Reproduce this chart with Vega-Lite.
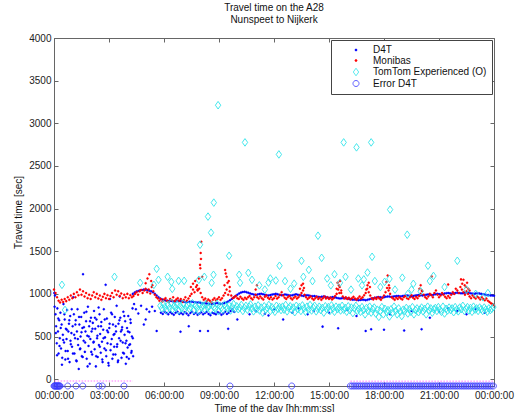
{
"$schema":"https://vega.github.io/schema/vega-lite/v6.json",
"width":440,"height":348,
"autosize":"none",
"padding":{"left":54,"top":38,"right":22,"bottom":26},
"title":{"text":["Travel time on the A28","Nunspeet to Nijkerk"],"font":"Liberation Sans","fontSize":10,"fontWeight":"normal","color":"#111","anchor":"middle","offset":8,"lineHeight":12},
"datasets":{
"d4t":[
{"m":1,"v":1010},{"m":3,"v":980},{"m":5,"v":760},{"m":7,"v":620},{"m":9,"v":420},{"m":11,"v":830},{"m":13,"v":560},{"m":15,"v":300},{"m":17,"v":690},{"m":19,"v":480},
{"m":21,"v":780},{"m":23,"v":360},{"m":25,"v":640},{"m":27,"v":250},{"m":29,"v":520},{"m":31,"v":880},{"m":33,"v":430},{"m":35,"v":700},{"m":37,"v":230},{"m":39,"v":590},
{"m":41,"v":470},{"m":43,"v":810},{"m":45,"v":330},{"m":47,"v":560},{"m":49,"v":650},{"m":51,"v":200},{"m":53,"v":740},{"m":55,"v":410},{"m":57,"v":540},{"m":59,"v":380},
{"m":61,"v":620},{"m":63,"v":960},{"m":65,"v":760},{"m":67,"v":300},{"m":69,"v":480},{"m":71,"v":690},{"m":73,"v":220},{"m":75,"v":560},{"m":77,"v":820},{"m":79,"v":400},
{"m":81,"v":120},{"m":83,"v":640},{"m":85,"v":350},{"m":87,"v":500},{"m":89,"v":730},{"m":91,"v":270},{"m":93,"v":600},{"m":95,"v":1231},{"m":97,"v":450},{"m":99,"v":780},
{"m":101,"v":320},{"m":103,"v":560},{"m":105,"v":680},{"m":107,"v":240},{"m":109,"v":510},{"m":111,"v":850},{"m":113,"v":390},{"m":115,"v":620},{"m":117,"v":180},{"m":119,"v":470},
{"m":121,"v":720},{"m":123,"v":560},{"m":125,"v":290},{"m":127,"v":660},{"m":129,"v":430},{"m":131,"v":800},{"m":133,"v":350},{"m":135,"v":590},{"m":137,"v":150},{"m":139,"v":700},
{"m":141,"v":480},{"m":143,"v":260},{"m":145,"v":620},{"m":147,"v":400},{"m":149,"v":760},{"m":151,"v":530},{"m":153,"v":310},{"m":155,"v":670},{"m":157,"v":440},{"m":159,"v":200},
{"m":161,"v":580},{"m":163,"v":820},{"m":165,"v":360},{"m":167,"v":490},{"m":169,"v":1106},{"m":171,"v":270},{"m":173,"v":710},{"m":175,"v":420},{"m":177,"v":550},{"m":179,"v":160},
{"m":181,"v":600},{"m":183,"v":940},{"m":185,"v":340},{"m":187,"v":780},{"m":189,"v":470},{"m":191,"v":240},{"m":193,"v":640},{"m":195,"v":520},{"m":197,"v":380},{"m":199,"v":730},
{"m":201,"v":290},{"m":203,"v":560},{"m":205,"v":860},{"m":207,"v":410},{"m":209,"v":200},{"m":211,"v":650},{"m":213,"v":480},{"m":215,"v":970},{"m":217,"v":720},{"m":219,"v":560},
{"m":221,"v":250},{"m":223,"v":610},{"m":225,"v":430},{"m":227,"v":790},{"m":229,"v":300},{"m":231,"v":520},{"m":233,"v":680},{"m":235,"v":180},{"m":237,"v":450},{"m":239,"v":600},
{"m":241,"v":370},{"m":243,"v":740},{"m":245,"v":240},{"m":247,"v":550},{"m":249,"v":410},{"m":251,"v":660},{"m":253,"v":310},{"m":255,"v":500},{"m":257,"v":830},{"m":259,"v":270},
{"m":2,"v":850},{"m":6,"v":540},{"m":10,"v":280},{"m":14,"v":710},{"m":18,"v":390},{"m":22,"v":600},{"m":26,"v":170},{"m":30,"v":460},{"m":34,"v":760},{"m":38,"v":330},
{"m":42,"v":580},{"m":46,"v":240},{"m":50,"v":690},{"m":54,"v":450},{"m":58,"v":820},{"m":62,"v":300},{"m":66,"v":520},{"m":70,"v":640},{"m":74,"v":210},{"m":78,"v":470},
{"m":82,"v":730},{"m":86,"v":360},{"m":90,"v":550},{"m":94,"v":260},{"m":98,"v":610},{"m":102,"v":430},{"m":106,"v":790},{"m":110,"v":150},{"m":114,"v":500},{"m":118,"v":680},
{"m":122,"v":320},{"m":126,"v":590},{"m":130,"v":440},{"m":134,"v":720},{"m":138,"v":270},{"m":142,"v":510},{"m":146,"v":840},{"m":150,"v":380},{"m":154,"v":620},{"m":158,"v":230},
{"m":162,"v":480},{"m":166,"v":700},{"m":170,"v":340},{"m":174,"v":570},{"m":178,"v":190},{"m":182,"v":650},{"m":186,"v":410},{"m":190,"v":760},{"m":194,"v":290},{"m":198,"v":530},
{"m":202,"v":620},{"m":206,"v":380},{"m":210,"v":220},{"m":214,"v":690},{"m":218,"v":450},{"m":222,"v":580},{"m":226,"v":310},{"m":230,"v":740},{"m":234,"v":420},{"m":238,"v":260},
{"m":242,"v":560},{"m":246,"v":400},{"m":250,"v":700},{"m":254,"v":330},{"m":258,"v":480},
{"m":262,"v":880},{"m":268,"v":820},{"m":276,"v":770},{"m":285,"v":860},{"m":294,"v":640},{"m":303,"v":820},{"m":312,"v":790},{"m":321,"v":850},{"m":330,"v":800},{"m":300,"v":700},
{"m":258,"v":1000},{"m":264,"v":1015},{"m":270,"v":1028},{"m":276,"v":1035},{"m":282,"v":1042},{"m":288,"v":1046},{"m":294,"v":1050},{"m":300,"v":1048},{"m":306,"v":1045},{"m":312,"v":1038},
{"m":318,"v":1030},{"m":324,"v":1018},{"m":330,"v":1000},{"m":336,"v":980},{"m":342,"v":960},{"m":348,"v":945},{"m":354,"v":935},{"m":360,"v":928},{"m":366,"v":922},{"m":372,"v":918},
{"m":378,"v":915},{"m":384,"v":918},{"m":390,"v":912},{"m":396,"v":910},{"m":402,"v":914},{"m":408,"v":918},{"m":414,"v":915},{"m":420,"v":910},{"m":426,"v":905},{"m":432,"v":900},
{"m":438,"v":904},{"m":444,"v":908},{"m":450,"v":910},{"m":456,"v":906},{"m":462,"v":902},{"m":468,"v":898},{"m":474,"v":900},{"m":480,"v":895},{"m":486,"v":890},{"m":492,"v":893},
{"m":498,"v":888},{"m":504,"v":885},{"m":510,"v":882},{"m":516,"v":880},{"m":522,"v":884},{"m":528,"v":888},{"m":534,"v":892},{"m":540,"v":886},{"m":546,"v":882},{"m":552,"v":886},
{"m":558,"v":892},{"m":564,"v":900},{"m":570,"v":910},{"m":576,"v":925},{"m":582,"v":940},{"m":588,"v":958},{"m":594,"v":975},{"m":600,"v":990},{"m":606,"v":1005},{"m":612,"v":1015},
{"m":618,"v":1022},{"m":624,"v":1025},{"m":630,"v":1020},{"m":636,"v":1012},{"m":642,"v":1005},{"m":648,"v":998},{"m":654,"v":992},{"m":660,"v":988},{"m":666,"v":992},{"m":672,"v":998},
{"m":678,"v":1002},{"m":684,"v":996},{"m":690,"v":990},{"m":696,"v":985},{"m":702,"v":982},{"m":708,"v":986},{"m":714,"v":992},{"m":720,"v":996},{"m":726,"v":1000},{"m":732,"v":995},
{"m":738,"v":988},{"m":744,"v":984},{"m":750,"v":988},{"m":756,"v":994},{"m":762,"v":990},{"m":768,"v":984},{"m":774,"v":980},{"m":780,"v":984},{"m":786,"v":990},{"m":792,"v":995},
{"m":798,"v":990},{"m":804,"v":985},{"m":810,"v":980},{"m":816,"v":976},{"m":822,"v":980},{"m":828,"v":985},{"m":834,"v":982},{"m":840,"v":976},{"m":846,"v":972},{"m":852,"v":975},
{"m":858,"v":970},{"m":864,"v":965},{"m":870,"v":962},{"m":876,"v":966},{"m":882,"v":970},{"m":888,"v":965},{"m":894,"v":958},{"m":900,"v":955},{"m":906,"v":958},{"m":912,"v":962},
{"m":918,"v":960},{"m":924,"v":955},{"m":930,"v":950},{"m":936,"v":946},{"m":942,"v":948},{"m":948,"v":952},{"m":954,"v":950},{"m":960,"v":945},{"m":966,"v":940},{"m":972,"v":936},
{"m":978,"v":932},{"m":984,"v":935},{"m":990,"v":930},{"m":996,"v":926},{"m":1002,"v":928},{"m":1008,"v":932},{"m":1014,"v":930},{"m":1020,"v":926},{"m":1026,"v":930},{"m":1032,"v":936},
{"m":1038,"v":942},{"m":1044,"v":948},{"m":1050,"v":954},{"m":1056,"v":958},{"m":1062,"v":962},{"m":1068,"v":960},{"m":1074,"v":956},{"m":1080,"v":960},{"m":1086,"v":966},{"m":1092,"v":970},
{"m":1098,"v":968},{"m":1104,"v":964},{"m":1110,"v":968},{"m":1116,"v":972},{"m":1122,"v":976},{"m":1128,"v":974},{"m":1134,"v":970},{"m":1140,"v":974},{"m":1146,"v":978},{"m":1152,"v":982},
{"m":1158,"v":980},{"m":1164,"v":976},{"m":1170,"v":972},{"m":1176,"v":976},{"m":1182,"v":980},{"m":1188,"v":984},{"m":1194,"v":988},{"m":1200,"v":985},{"m":1206,"v":980},{"m":1212,"v":984},
{"m":1218,"v":990},{"m":1224,"v":994},{"m":1230,"v":990},{"m":1236,"v":986},{"m":1242,"v":990},{"m":1248,"v":996},{"m":1254,"v":1000},{"m":1260,"v":998},{"m":1266,"v":994},{"m":1272,"v":998},
{"m":1278,"v":1004},{"m":1284,"v":1008},{"m":1290,"v":1010},{"m":1296,"v":1006},{"m":1302,"v":1002},{"m":1308,"v":1006},{"m":1314,"v":1010},{"m":1320,"v":1014},{"m":1326,"v":1010},{"m":1332,"v":1006},
{"m":1338,"v":1008},{"m":1344,"v":1012},{"m":1350,"v":1015},{"m":1356,"v":1012},{"m":1362,"v":1008},{"m":1368,"v":1004},{"m":1374,"v":1000},{"m":1380,"v":1004},{"m":1386,"v":1008},{"m":1392,"v":1005},
{"m":1398,"v":1000},{"m":1404,"v":996},{"m":1410,"v":992},{"m":1416,"v":988},{"m":1422,"v":985},{"m":1428,"v":982},{"m":1434,"v":980},{"m":1440,"v":978},
{"m":350,"v":780},{"m":356,"v":765},{"m":362,"v":790},{"m":368,"v":775},{"m":374,"v":760},{"m":380,"v":785},{"m":386,"v":770},{"m":392,"v":755},{"m":398,"v":780},{"m":404,"v":790},
{"m":410,"v":765},{"m":416,"v":775},{"m":422,"v":760},{"m":428,"v":785},{"m":434,"v":770},{"m":440,"v":750},{"m":446,"v":775},{"m":452,"v":790},{"m":458,"v":765},{"m":464,"v":780},
{"m":470,"v":755},{"m":476,"v":770},{"m":482,"v":785},{"m":488,"v":760},{"m":494,"v":775},{"m":500,"v":790},{"m":506,"v":765},{"m":512,"v":750},{"m":518,"v":780},{"m":524,"v":770},
{"m":530,"v":760},{"m":536,"v":785},{"m":542,"v":775},{"m":548,"v":755},{"m":554,"v":770},{"m":560,"v":790},{"m":566,"v":765},{"m":572,"v":780},{"m":578,"v":800},{"m":584,"v":820},{"m":590,"v":790},
{"m":336,"v":565},{"m":414,"v":557},{"m":441,"v":620},{"m":478,"v":565},{"m":504,"v":565},{"m":570,"v":590},{"m":600,"v":700},{"m":640,"v":760},{"m":660,"v":800},{"m":690,"v":766},
{"m":702,"v":747},{"m":720,"v":820},{"m":750,"v":700},{"m":780,"v":780},{"m":800,"v":830},{"m":830,"v":760},{"m":850,"v":800},{"m":879,"v":616},{"m":900,"v":780},{"m":930,"v":596},
{"m":960,"v":810},{"m":990,"v":740},{"m":1020,"v":565},{"m":1038,"v":585},{"m":1080,"v":580},{"m":1100,"v":760},{"m":1146,"v":570},{"m":1170,"v":800},{"m":1203,"v":585},{"m":1230,"v":720},
{"m":1260,"v":790},{"m":1290,"v":830},{"m":1320,"v":800},{"m":1350,"v":760},{"m":1380,"v":820},{"m":1410,"v":780}
],
"mon":[
{"m":0,"v":1050},{"m":5,"v":1010},{"m":10,"v":960},{"m":15,"v":920},{"m":20,"v":900},{"m":25,"v":930},{"m":30,"v":905},{"m":35,"v":940},{"m":40,"v":915},{"m":45,"v":960},
{"m":50,"v":930},{"m":55,"v":980},{"m":60,"v":950},{"m":65,"v":1000},{"m":70,"v":960},{"m":75,"v":1020},{"m":80,"v":985},{"m":85,"v":1050},{"m":90,"v":990},{"m":95,"v":1030},
{"m":100,"v":970},{"m":105,"v":1010},{"m":110,"v":950},{"m":115,"v":990},{"m":120,"v":940},{"m":125,"v":980},{"m":130,"v":1020},{"m":135,"v":960},{"m":140,"v":1000},{"m":145,"v":945},
{"m":150,"v":980},{"m":155,"v":930},{"m":160,"v":965},{"m":165,"v":1000},{"m":170,"v":950},{"m":175,"v":985},{"m":180,"v":940},{"m":185,"v":975},{"m":190,"v":1010},{"m":195,"v":960},
{"m":200,"v":1040},{"m":205,"v":990},{"m":210,"v":1030},{"m":215,"v":975},{"m":220,"v":1005},{"m":225,"v":950},{"m":230,"v":990},{"m":235,"v":960},{"m":240,"v":1000},{"m":245,"v":950},
{"m":250,"v":985},{"m":255,"v":960},{"m":260,"v":975},{"m":265,"v":1000},{"m":270,"v":1020},{"m":275,"v":990},{"m":280,"v":1030},{"m":285,"v":1045},{"m":290,"v":1010},{"m":295,"v":1040},
{"m":300,"v":1060},{"m":305,"v":1020},{"m":310,"v":1050},{"m":315,"v":1005},{"m":320,"v":1080},{"m":325,"v":1030},{"m":330,"v":990},{"m":335,"v":960},{"m":340,"v":945},{"m":345,"v":920},
{"m":350,"v":940},{"m":355,"v":910},{"m":360,"v":935},{"m":365,"v":950},{"m":370,"v":920},{"m":375,"v":905},{"m":380,"v":940},{"m":385,"v":925},{"m":390,"v":960},{"m":395,"v":915},
{"m":400,"v":935},{"m":405,"v":950},{"m":410,"v":920},{"m":415,"v":940},{"m":420,"v":905},{"m":425,"v":930},{"m":430,"v":960},{"m":435,"v":920},{"m":440,"v":945},{"m":445,"v":975},
{"m":450,"v":1000},{"m":455,"v":1050},{"m":460,"v":1020},{"m":465,"v":1080},{"m":470,"v":1040},{"m":475,"v":1060},{"m":480,"v":1010},{"m":485,"v":960},{"m":490,"v":930},{"m":495,"v":945},
{"m":500,"v":915},{"m":505,"v":935},{"m":510,"v":920},{"m":515,"v":900},{"m":520,"v":930},{"m":525,"v":950},{"m":530,"v":925},{"m":535,"v":940},{"m":540,"v":960},{"m":545,"v":930},
{"m":550,"v":950},{"m":555,"v":980},{"m":560,"v":1010},{"m":565,"v":1050},{"m":570,"v":990},{"m":575,"v":1030},{"m":580,"v":980},{"m":585,"v":950},{"m":590,"v":960},{"m":595,"v":975},
{"m":600,"v":950},{"m":605,"v":940},{"m":610,"v":965},{"m":615,"v":945},{"m":620,"v":930},{"m":625,"v":955},{"m":630,"v":940},{"m":635,"v":960},{"m":640,"v":975},{"m":645,"v":950},
{"m":650,"v":935},{"m":655,"v":960},{"m":660,"v":990},{"m":665,"v":960},{"m":670,"v":945},{"m":675,"v":970},{"m":680,"v":950},{"m":685,"v":935},{"m":690,"v":965},{"m":695,"v":980},
{"m":700,"v":955},{"m":705,"v":940},{"m":710,"v":960},{"m":715,"v":935},{"m":720,"v":950},{"m":725,"v":975},{"m":730,"v":945},{"m":735,"v":960},{"m":740,"v":990},{"m":745,"v":1020},
{"m":750,"v":980},{"m":755,"v":955},{"m":760,"v":940},{"m":765,"v":960},{"m":770,"v":975},{"m":775,"v":950},{"m":780,"v":935},{"m":785,"v":955},{"m":790,"v":970},{"m":795,"v":945},
{"m":800,"v":960},{"m":805,"v":985},{"m":810,"v":1010},{"m":815,"v":1040},{"m":820,"v":990},{"m":825,"v":960},{"m":830,"v":940},{"m":835,"v":955},{"m":840,"v":970},{"m":845,"v":945},
{"m":850,"v":930},{"m":855,"v":950},{"m":860,"v":965},{"m":865,"v":940},{"m":870,"v":955},{"m":875,"v":930},{"m":880,"v":950},{"m":885,"v":970},{"m":890,"v":945},{"m":895,"v":960},
{"m":900,"v":940},{"m":905,"v":955},{"m":910,"v":935},{"m":915,"v":950},{"m":920,"v":975},{"m":925,"v":1000},{"m":930,"v":1050},{"m":935,"v":1080},{"m":940,"v":1010},{"m":945,"v":970},
{"m":950,"v":945},{"m":955,"v":960},{"m":960,"v":940},{"m":965,"v":955},{"m":970,"v":935},{"m":975,"v":950},{"m":980,"v":965},{"m":985,"v":945},{"m":990,"v":930},{"m":995,"v":950},
{"m":1000,"v":970},{"m":1005,"v":945},{"m":1010,"v":960},{"m":1015,"v":985},{"m":1020,"v":1010},{"m":1025,"v":1060},{"m":1030,"v":1020},{"m":1035,"v":980},{"m":1040,"v":950},{"m":1045,"v":935},
{"m":1050,"v":955},{"m":1055,"v":940},{"m":1060,"v":960},{"m":1065,"v":945},{"m":1070,"v":930},{"m":1075,"v":955},{"m":1080,"v":980},{"m":1085,"v":1020},{"m":1090,"v":1070},{"m":1095,"v":1040},
{"m":1100,"v":1000},{"m":1105,"v":960},{"m":1110,"v":945},{"m":1115,"v":930},{"m":1120,"v":955},{"m":1125,"v":940},{"m":1130,"v":960},{"m":1135,"v":945},{"m":1140,"v":935},{"m":1145,"v":960},
{"m":1150,"v":975},{"m":1155,"v":950},{"m":1160,"v":940},{"m":1165,"v":960},{"m":1170,"v":985},{"m":1175,"v":955},{"m":1180,"v":940},{"m":1185,"v":965},{"m":1190,"v":950},{"m":1195,"v":975},
{"m":1200,"v":1000},{"m":1205,"v":1030},{"m":1210,"v":990},{"m":1215,"v":960},{"m":1220,"v":945},{"m":1225,"v":970},{"m":1230,"v":1000},{"m":1235,"v":985},{"m":1240,"v":960},{"m":1245,"v":1010},
{"m":1250,"v":1040},{"m":1255,"v":990},{"m":1260,"v":960},{"m":1265,"v":980},{"m":1270,"v":1010},{"m":1275,"v":990},{"m":1280,"v":965},{"m":1285,"v":950},{"m":1290,"v":975},{"m":1295,"v":955},
{"m":1300,"v":990},{"m":1305,"v":1020},{"m":1310,"v":1000},{"m":1315,"v":1060},{"m":1320,"v":1040},{"m":1325,"v":1010},{"m":1330,"v":1080},{"m":1335,"v":1050},{"m":1340,"v":1020},{"m":1345,"v":990},
{"m":1350,"v":1030},{"m":1355,"v":1000},{"m":1360,"v":970},{"m":1365,"v":950},{"m":1370,"v":980},{"m":1375,"v":960},{"m":1380,"v":945},{"m":1385,"v":970},{"m":1390,"v":955},{"m":1395,"v":935},
{"m":1400,"v":960},{"m":1405,"v":940},{"m":1410,"v":925},{"m":1415,"v":945},{"m":1420,"v":920},{"m":1425,"v":905},{"m":1430,"v":890},{"m":1435,"v":880},{"m":1440,"v":870},
{"m":300,"v":1125},{"m":306,"v":1180},{"m":312,"v":1230},{"m":318,"v":1150},{"m":322,"v":1100},
{"m":448,"v":1080},{"m":455,"v":1120},{"m":462,"v":1150},{"m":468,"v":1100},{"m":474,"v":1180},{"m":478,"v":1340},{"m":480,"v":1480},{"m":481,"v":1410},{"m":482,"v":1610},{"m":479,"v":1300},{"m":485,"v":1200},{"m":470,"v":1050},
{"m":558,"v":1100},{"m":560,"v":1280},{"m":562,"v":1240},{"m":565,"v":1200},{"m":568,"v":1130},{"m":572,"v":1150},{"m":575,"v":1080},
{"m":660,"v":1050},{"m":664,"v":1100},
{"m":805,"v":1060},{"m":810,"v":1100},{"m":815,"v":1120},{"m":818,"v":1070},
{"m":925,"v":1060},{"m":928,"v":1130},{"m":932,"v":1100},{"m":936,"v":1150},{"m":940,"v":1040},{"m":934,"v":1010},
{"m":1022,"v":1050},{"m":1026,"v":1100},{"m":1030,"v":1130},{"m":1034,"v":1080},
{"m":1088,"v":1140},{"m":1092,"v":1215},{"m":1096,"v":1100},{"m":1098,"v":1070},
{"m":1196,"v":1060},{"m":1200,"v":1100},{"m":1204,"v":1040},{"m":1236,"v":1204},{"m":1290,"v":1110},
{"m":1332,"v":1170},{"m":1336,"v":1120},{"m":1340,"v":1165},{"m":1344,"v":1100},{"m":1348,"v":1082},{"m":1352,"v":1130},{"m":1356,"v":1060},{"m":1360,"v":1040}
],
"tt":[
{"m":348,"v":860},{"m":353,"v":830},{"m":358,"v":880},{"m":363,"v":845},{"m":368,"v":810},{"m":373,"v":870},{"m":378,"v":835},{"m":383,"v":895},{"m":388,"v":820},{"m":393,"v":855},
{"m":398,"v":840},{"m":403,"v":875},{"m":408,"v":805},{"m":413,"v":860},{"m":418,"v":830},{"m":423,"v":885},{"m":428,"v":815},{"m":433,"v":850},{"m":438,"v":870},{"m":443,"v":825},
{"m":448,"v":845},{"m":453,"v":890},{"m":458,"v":810},{"m":463,"v":865},{"m":468,"v":835},{"m":473,"v":800},{"m":478,"v":875},{"m":483,"v":840},{"m":488,"v":860},{"m":493,"v":820},
{"m":498,"v":880},{"m":503,"v":835},{"m":508,"v":855},{"m":513,"v":810},{"m":518,"v":870},{"m":523,"v":845},{"m":528,"v":825},{"m":533,"v":885},{"m":538,"v":800},{"m":543,"v":860},
{"m":548,"v":840},{"m":553,"v":815},{"m":558,"v":875},{"m":563,"v":850},{"m":568,"v":830},{"m":573,"v":865},{"m":578,"v":805},{"m":583,"v":845},{"m":588,"v":880},{"m":593,"v":825},
{"m":598,"v":855},{"m":603,"v":820},{"m":608,"v":840},{"m":613,"v":870},{"m":618,"v":800},{"m":623,"v":835},{"m":628,"v":860},{"m":633,"v":815},{"m":638,"v":850},{"m":643,"v":875},
{"m":648,"v":830},{"m":653,"v":795},{"m":658,"v":850},{"m":663,"v":820},{"m":668,"v":865},{"m":673,"v":805},{"m":678,"v":840},{"m":683,"v":780},{"m":688,"v":855},{"m":693,"v":815},
{"m":698,"v":835},{"m":703,"v":870},{"m":708,"v":800},{"m":713,"v":845},{"m":718,"v":820},{"m":723,"v":790},{"m":728,"v":860},{"m":733,"v":825},{"m":738,"v":845},{"m":743,"v":810},
{"m":748,"v":850},{"m":753,"v":815},{"m":758,"v":870},{"m":763,"v":795},{"m":768,"v":835},{"m":773,"v":855},{"m":778,"v":810},{"m":783,"v":840},{"m":788,"v":785},{"m":793,"v":860},
{"m":798,"v":820},{"m":803,"v":845},{"m":808,"v":800},{"m":813,"v":865},{"m":818,"v":830},{"m":823,"v":790},{"m":828,"v":850},{"m":833,"v":815},{"m":838,"v":870},{"m":843,"v":805},
{"m":848,"v":840},{"m":853,"v":860},{"m":858,"v":795},{"m":863,"v":825},{"m":868,"v":850},{"m":873,"v":810},{"m":878,"v":835},{"m":883,"v":780},{"m":888,"v":855},{"m":893,"v":820},
{"m":898,"v":845},{"m":903,"v":800},{"m":908,"v":865},{"m":913,"v":830},{"m":918,"v":790},{"m":923,"v":850},{"m":928,"v":820},{"m":933,"v":840},{"m":938,"v":805},{"m":943,"v":860},
{"m":948,"v":815},{"m":953,"v":835},{"m":958,"v":790},{"m":963,"v":855},{"m":968,"v":810},{"m":973,"v":840},{"m":978,"v":775},{"m":983,"v":830},{"m":988,"v":860},{"m":993,"v":800},
{"m":998,"v":825},{"m":1003,"v":790},{"m":1008,"v":845},{"m":1013,"v":810},{"m":1018,"v":760},{"m":1023,"v":835},{"m":1028,"v":800},{"m":1033,"v":850},{"m":1038,"v":780},{"m":1043,"v":820},
{"m":1048,"v":840},{"m":1053,"v":770},{"m":1058,"v":815},{"m":1063,"v":730},{"m":1068,"v":800},{"m":1073,"v":845},{"m":1078,"v":760},{"m":1083,"v":825},{"m":1088,"v":790},{"m":1093,"v":810},
{"m":1098,"v":735},{"m":1103,"v":820},{"m":1108,"v":780},{"m":1113,"v":850},{"m":1118,"v":800},{"m":1123,"v":760},{"m":1128,"v":830},{"m":1133,"v":790},{"m":1138,"v":740},{"m":1143,"v":815},
{"m":1148,"v":800},{"m":1153,"v":835},{"m":1158,"v":770},{"m":1163,"v":820},{"m":1168,"v":790},{"m":1173,"v":845},{"m":1178,"v":760},{"m":1183,"v":810},{"m":1188,"v":830},{"m":1193,"v":785},
{"m":1198,"v":815},{"m":1203,"v":840},{"m":1208,"v":795},{"m":1213,"v":825},{"m":1218,"v":760},{"m":1223,"v":850},{"m":1228,"v":805},{"m":1233,"v":830},{"m":1238,"v":780},{"m":1243,"v":820},
{"m":1248,"v":835},{"m":1253,"v":800},{"m":1258,"v":845},{"m":1263,"v":815},{"m":1268,"v":790},{"m":1273,"v":850},{"m":1278,"v":770},{"m":1283,"v":825},{"m":1288,"v":805},{"m":1293,"v":840},
{"m":1298,"v":810},{"m":1303,"v":830},{"m":1308,"v":785},{"m":1313,"v":845},{"m":1318,"v":815},{"m":1323,"v":795},{"m":1328,"v":840},{"m":1333,"v":820},{"m":1338,"v":860},{"m":1343,"v":800},
{"m":1348,"v":825},{"m":1353,"v":845},{"m":1358,"v":805},{"m":1363,"v":835},{"m":1368,"v":790},{"m":1373,"v":850},{"m":1378,"v":815},{"m":1383,"v":830},{"m":1388,"v":800},{"m":1393,"v":840},
{"m":1398,"v":820},{"m":1403,"v":800},{"m":1408,"v":840},{"m":1413,"v":815},{"m":1418,"v":790},{"m":1423,"v":830},{"m":1428,"v":810},{"m":1433,"v":825},{"m":1438,"v":845},
{"m":26,"v":1106},{"m":36,"v":812},{"m":198,"v":1200},{"m":282,"v":1130},{"m":327,"v":1106},{"m":336,"v":1294},{"m":342,"v":1165},
{"m":372,"v":1200},{"m":384,"v":1141},{"m":387,"v":1059},{"m":408,"v":1153},{"m":426,"v":1153},{"m":474,"v":1165},{"m":492,"v":1200},{"m":516,"v":1130},{"m":522,"v":1224},
{"m":478,"v":1576},{"m":504,"v":1906},{"m":514,"v":1718},{"m":523,"v":2070},{"m":537,"v":3212},{"m":573,"v":1447},
{"m":606,"v":1224},{"m":609,"v":1130},{"m":636,"v":1247},{"m":648,"v":1165},{"m":625,"v":2776},
{"m":672,"v":1100},{"m":690,"v":1050},{"m":702,"v":1133},{"m":708,"v":1180},{"m":726,"v":1157},{"m":736,"v":2635},{"m":738,"v":1330},{"m":756,"v":1150},{"m":774,"v":1060},{"m":786,"v":1120},
{"m":810,"v":1388},{"m":816,"v":1200},{"m":834,"v":1282},{"m":846,"v":1150},{"m":864,"v":1682},{"m":876,"v":1423},{"m":894,"v":1180},{"m":906,"v":1100},{"m":918,"v":1230},{"m":936,"v":1130},
{"m":948,"v":2776},{"m":954,"v":1200},{"m":972,"v":1050},{"m":990,"v":2718},{"m":996,"v":1180},{"m":1008,"v":1100},{"m":1014,"v":1170},{"m":1026,"v":1250},{"m":1038,"v":2776},{"m":1041,"v":1435},
{"m":1050,"v":1150},{"m":1068,"v":1080},{"m":1082,"v":1141},{"m":1098,"v":1176},{"m":1100,"v":1988},{"m":1116,"v":1050},{"m":1140,"v":1190},{"m":1156,"v":1694},{"m":1158,"v":1000},{"m":1170,"v":1051},
{"m":1176,"v":1118},{"m":1200,"v":1030},{"m":1224,"v":1330},{"m":1230,"v":1150},{"m":1242,"v":1210},{"m":1278,"v":1080},{"m":1320,"v":1388},{"m":1350,"v":1050},{"m":1380,"v":1000},{"m":1404,"v":960},{"m":1420,"v":1010}
],
"err":[
{"m":0,"v":-80},{"m":2,"v":-80},{"m":4,"v":-80},{"m":6,"v":-80},{"m":8,"v":-80},{"m":10,"v":-80},{"m":12,"v":-80},{"m":14,"v":-80},{"m":16,"v":-80},{"m":18,"v":-80},{"m":20,"v":-80},
{"m":45,"v":-80},{"m":72,"v":-80},{"m":94,"v":-80},{"m":147,"v":-80},{"m":158,"v":-80},{"m":229,"v":-80},{"m":576,"v":-80},{"m":778,"v":-80},
{"m":970,"v":-80},{"m":976,"v":-80},{"m":982,"v":-80},{"m":988,"v":-80},{"m":994,"v":-80},{"m":1000,"v":-80},{"m":1006,"v":-80},{"m":1012,"v":-80},{"m":1018,"v":-80},{"m":1024,"v":-80},
{"m":1030,"v":-80},{"m":1036,"v":-80},{"m":1042,"v":-80},{"m":1048,"v":-80},{"m":1054,"v":-80},{"m":1060,"v":-80},{"m":1066,"v":-80},{"m":1072,"v":-80},{"m":1078,"v":-80},{"m":1084,"v":-80},
{"m":1090,"v":-80},{"m":1096,"v":-80},{"m":1102,"v":-80},{"m":1108,"v":-80},{"m":1114,"v":-80},{"m":1120,"v":-80},{"m":1126,"v":-80},{"m":1132,"v":-80},{"m":1138,"v":-80},{"m":1144,"v":-80},
{"m":1150,"v":-80},{"m":1156,"v":-80},{"m":1162,"v":-80},{"m":1168,"v":-80},{"m":1174,"v":-80},{"m":1180,"v":-80},{"m":1186,"v":-80},{"m":1192,"v":-80},{"m":1198,"v":-80},{"m":1204,"v":-80},
{"m":1210,"v":-80},{"m":1216,"v":-80},{"m":1222,"v":-80},{"m":1228,"v":-80},{"m":1234,"v":-80},{"m":1240,"v":-80},{"m":1246,"v":-80},{"m":1252,"v":-80},{"m":1258,"v":-80},{"m":1264,"v":-80},
{"m":1270,"v":-80},{"m":1276,"v":-80},{"m":1282,"v":-80},{"m":1288,"v":-80},{"m":1294,"v":-80},{"m":1300,"v":-80},{"m":1306,"v":-80},{"m":1312,"v":-80},{"m":1318,"v":-80},{"m":1324,"v":-80},
{"m":1330,"v":-80},{"m":1336,"v":-80},{"m":1342,"v":-80},{"m":1348,"v":-80},{"m":1354,"v":-80},{"m":1360,"v":-80},{"m":1366,"v":-80},{"m":1372,"v":-80},{"m":1378,"v":-80},{"m":1384,"v":-80},
{"m":1390,"v":-80},{"m":1396,"v":-80},{"m":1402,"v":-80},{"m":1408,"v":-80},{"m":1414,"v":-80},{"m":1420,"v":-80},{"m":1426,"v":-80},{"m":1432,"v":-80},{"m":1438,"v":-80}
],
"pink":[
{"m":2,"v":-20,"g":"a"},{"m":258,"v":-20,"g":"a"},{"m":970,"v":-25,"g":"b"},{"m":1438,"v":-25,"g":"b"}
]
},
"layer":[
{"data":{"name":"d4t"},"mark":{"type":"point","strokeWidth":0.4,"opacity":1,"size":40},
"encoding":{
"x":{"field":"m","type":"quantitative","scale":{"domain":[0,1440],"nice":false,"zero":false},
 "axis":{"orient":"bottom","values":[0,180,360,540,720,900,1080,1260,1440],"labelExpr":"datum.value==1440?'00:00:00':(datum.value<600?'0':'')+floor(datum.value/60)+':00:00'","title":"Time of the day [hh:mm:ss]","tickSize":-4,"labelPadding":8,"titlePadding":3,"labelFlush":false,"labelOverlap":false}},
"y":{"field":"v","type":"quantitative","scale":{"domain":[-80,4000],"nice":false,"zero":false},
 "axis":{"orient":"left","values":[0,500,1000,1500,2000,2500,3000,3500,4000],"format":"d","title":"Travel time [sec]","tickSize":-4,"labelPadding":7,"titlePadding":5}},
"fill":{"datum":"D4T","type":"nominal","scale":{"domain":["D4T","Monibas","TomTom Experienced (O)","Error D4T"],"range":["#0000ff","#ff0000","transparent","transparent"]},
 "legend":{"orient":"none","legendX":277,"legendY":2,"title":null,"strokeColor":"#444","fillColor":"white","padding":5,"symbolOffset":15,"labelOffset":12,"rowPadding":0.5,"symbolSize":40,"labelFont":"Liberation Sans","labelFontSize":10,"labelColor":"#111","symbolStrokeWidth":0.8,"labelLimit":300}},
"stroke":{"datum":"D4T","type":"nominal","scale":{"domain":["D4T","Monibas","TomTom Experienced (O)","Error D4T"],"range":["#0000ff","#ff0000","#30e4ea","#3a3aff"]}},
"shape":{"datum":"D4T","type":"nominal","scale":{"domain":["D4T","Monibas","TomTom Experienced (O)","Error D4T"],"range":["M-0.32,0A0.32,0.32 0 1,0 0.32,0A0.32,0.32 0 1,0 -0.32,0Z","M-0.32,0A0.32,0.32 0 1,0 0.32,0A0.32,0.32 0 1,0 -0.32,0Z","M0,-1.2L0.85,0L0,1.2L-0.85,0Z","M-0.95,0A0.95,0.95 0 1,0 0.95,0A0.95,0.95 0 1,0 -0.95,0Z"]}}
}},
{"data":{"name":"mon"},"mark":{"type":"point","strokeWidth":0.4,"opacity":1,"size":40},
"encoding":{
"x":{"field":"m","type":"quantitative","axis":{"orient":"top","values":[0,180,360,540,720,900,1080,1260,1440],"labels":false,"title":null,"tickSize":-4,"domain":false}},
"y":{"field":"v","type":"quantitative","axis":{"orient":"right","values":[0,500,1000,1500,2000,2500,3000,3500,4000],"labels":false,"title":null,"tickSize":-4,"domain":false}},
"fill":{"datum":"Monibas","type":"nominal","scale":{"domain":["D4T","Monibas","TomTom Experienced (O)","Error D4T"]}},
"stroke":{"datum":"Monibas","type":"nominal","scale":{"domain":["D4T","Monibas","TomTom Experienced (O)","Error D4T"]}},
"shape":{"datum":"Monibas","type":"nominal","scale":{"domain":["D4T","Monibas","TomTom Experienced (O)","Error D4T"]}}
}},
{"data":{"name":"tt"},"mark":{"type":"point","strokeWidth":0.9,"opacity":1,"size":40},
"encoding":{
"x":{"field":"m","type":"quantitative","axis":null},
"y":{"field":"v","type":"quantitative","axis":null},
"fill":{"datum":"TomTom Experienced (O)","type":"nominal","scale":{"domain":["D4T","Monibas","TomTom Experienced (O)","Error D4T"]}},
"stroke":{"datum":"TomTom Experienced (O)","type":"nominal","scale":{"domain":["D4T","Monibas","TomTom Experienced (O)","Error D4T"]}},
"shape":{"datum":"TomTom Experienced (O)","type":"nominal","scale":{"domain":["D4T","Monibas","TomTom Experienced (O)","Error D4T"]}}
}},
{"data":{"name":"err"},"mark":{"type":"point","strokeWidth":0.8,"opacity":1,"size":40,"clip":false},
"encoding":{
"x":{"field":"m","type":"quantitative","axis":null},
"y":{"field":"v","type":"quantitative","axis":null},
"fill":{"datum":"Error D4T","type":"nominal","scale":{"domain":["D4T","Monibas","TomTom Experienced (O)","Error D4T"]}},
"stroke":{"datum":"Error D4T","type":"nominal","scale":{"domain":["D4T","Monibas","TomTom Experienced (O)","Error D4T"]}},
"shape":{"datum":"Error D4T","type":"nominal","scale":{"domain":["D4T","Monibas","TomTom Experienced (O)","Error D4T"]}}
}},
{"data":{"name":"pink"},"mark":{"type":"line","color":"#ff90ff","strokeWidth":1.5,"strokeDash":[1.5,1.5],"opacity":0.8},
"encoding":{
"x":{"field":"m","type":"quantitative","axis":null},
"y":{"field":"v","type":"quantitative","axis":null},
"detail":{"field":"g","type":"nominal"}
}}
],
"resolve":{"axis":{"x":"independent","y":"independent"}},
"config":{
"view":{"stroke":"#666","strokeWidth":1},
"axis":{"labelFont":"Liberation Sans","labelFontSize":10,"labelColor":"#222","titleFont":"Liberation Sans","titleFontSize":10,"titleFontWeight":"normal","titleColor":"#111","domainColor":"#666","tickColor":"#666","grid":false}
}
}
